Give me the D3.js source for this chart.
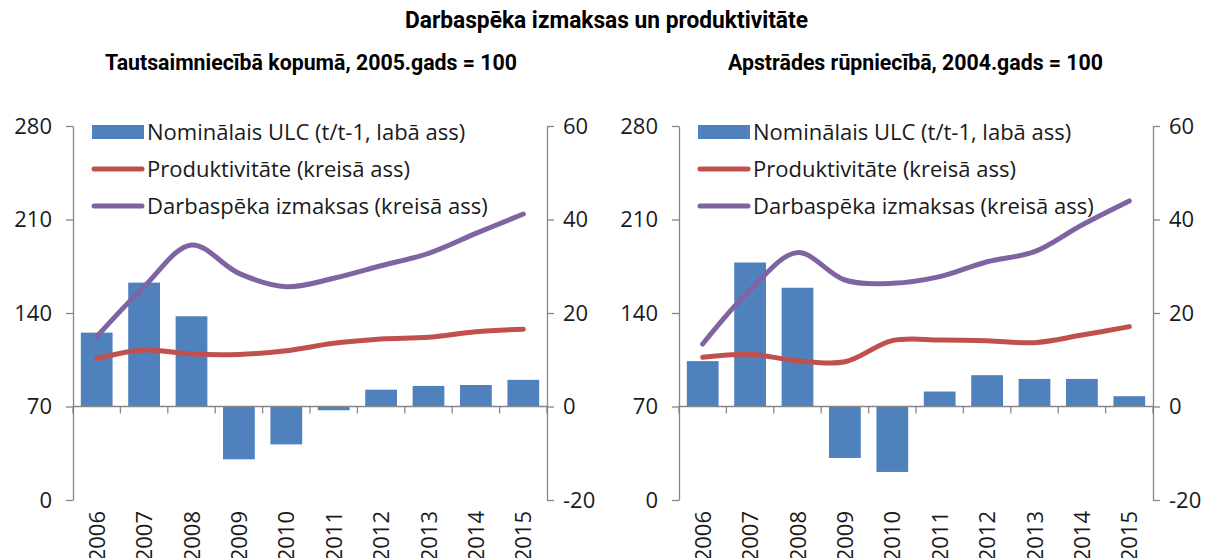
<!DOCTYPE html>
<html>
<head>
<meta charset="utf-8">
<script src="https://cdn.jsdelivr.net/npm/d3@7"></script>
<style>
  body { margin: 0; background: #fff; }
  svg { display: block; font-family: "Open Sans", "Noto Sans", sans-serif; }
  .title { font-family: "Roboto", sans-serif; font-weight: bold; }
</style>
</head>
<body>
<svg width="1215" height="558"></svg>
<script>
// years and series
const years = ["2006", "2007", "2008", "2009", "2010", "2011", "2012", "2013", "2014", "2015"]

// left panel: whole economy, 2005 = 100
const ulcTotal = [15.8, 26.5, 19.3, -11.3, -8.1, -0.8, 3.6, 4.4, 4.6, 5.7]
const prodTotal = [105.8, 112.3, 109.3, 109.0, 111.8, 117.3, 120.5, 121.8, 126.0, 127.8]
const costTotal = [122.3, 159.7, 190.9, 169.7, 159.7, 166.0, 175.4, 184.7, 199.6, 214.1]

// right panel: manufacturing, 2004 = 100
const ulcManuf = [9.7, 30.8, 25.4, -11.0, -14.0, 3.2, 6.7, 5.9, 5.9, 2.2]
const prodManuf = [106.8, 109.1, 104.3, 103.5, 119.3, 119.8, 119.3, 117.8, 123.5, 129.8]
const costManuf = [116.8, 157.2, 185.2, 164.7, 162.2, 167.2, 178.4, 185.9, 205.9, 223.9]

const leftTicks = [0, 70, 140, 210, 280]
const rightTicks = [-20, 0, 20, 40, 60]

const legendLabels = [
    "Nominālais ULC (t/t-1, labā ass)",
    "Produktivitāte (kreisā ass)",
    "Darbaspēka izmaksas (kreisā ass)"
]

const blue = "#4F81BD"
const red = "#C0504D"
const purple = "#8064A2"
const axisColor = "#868686"

const svg = d3.select("svg")

svg.append("text")
    .attr("class", "title")
    .attr("x", 405)
    .attr("y", 28)
    .attr("font-size", 23)
    .attr("textLength", 403)
    .attr("lengthAdjust", "spacingAndGlyphs")
    .text("Darbaspēka izmaksas un produktivitāte")

const drawPanel = function(x0, x1, subtitle, subX, subW, ulc, prod, cost) {
    const g = svg.append("g")

    g.append("text")
        .attr("class", "title")
        .attr("x", subX)
        .attr("y", 70)
        .attr("font-size", 22)
        .attr("textLength", subW)
        .attr("lengthAdjust", "spacingAndGlyphs")
        .text(subtitle)

    const scaleX = d3.scaleBand()
        .domain(years)
        .range([x0, x1])
        .paddingInner(0.33)
        .paddingOuter(0.165)

    const scaleL = d3.scaleLinear()
        .domain([0, 280])
        .range([500, 126])

    const scaleR = d3.scaleLinear()
        .domain([-20, 60])
        .range([500, 126])

    // left axis
    const axisL = d3.axisLeft(scaleL)
        .tickValues(leftTicks)
        .tickSizeInner(7)
        .tickSizeOuter(0)
        .tickPadding(14)
        .tickFormat(d => String(d))
    const gl = g.append("g")
        .attr("transform", `translate(${x0}, 0)`)
        .call(axisL)

    // right axis
    const axisR = d3.axisRight(scaleR)
        .tickValues(rightTicks)
        .tickSizeInner(7)
        .tickSizeOuter(0)
        .tickPadding(9)
        .tickFormat(d => String(d))
    const gr = g.append("g")
        .attr("transform", `translate(${x1}, 0)`)
        .call(axisR)

    ;[gl, gr].forEach(a => {
        a.selectAll("path, line").attr("stroke", axisColor).attr("stroke-width", 1.3)
        a.selectAll("text")
            .attr("font-size", 22)
            .attr("fill", "#1a1a1a")
            .attr("font-family", "Open Sans, sans-serif")
    })

    // bars
    g.selectAll("rect.bar")
        .data(ulc)
        .enter()
        .append("rect")
        .attr("class", "bar")
        .attr("x", (d, i) => scaleX(years[i]))
        .attr("width", scaleX.bandwidth())
        .attr("y", d => scaleR(Math.max(0, d)))
        .attr("height", d => Math.abs(scaleR(d) - scaleR(0)))
        .attr("fill", blue)

    // category axis on the zero line
    const step = scaleX.step()
    const bounds = d3.range(years.length + 1).map(i => x0 + i * step)
    g.append("line")
        .attr("x1", x0).attr("x2", x1)
        .attr("y1", scaleR(0)).attr("y2", scaleR(0))
        .attr("stroke", axisColor)
        .attr("stroke-width", 1.5)
    g.selectAll("line.xtick")
        .data(bounds)
        .enter()
        .append("line")
        .attr("class", "xtick")
        .attr("x1", d => d).attr("x2", d => d)
        .attr("y1", scaleR(0)).attr("y2", scaleR(0) + 7)
        .attr("stroke", axisColor)
        .attr("stroke-width", 1.3)

    g.selectAll("text.year")
        .data(years)
        .enter()
        .append("text")
        .attr("class", "year")
        .attr("transform", d => `translate(${scaleX(d) + scaleX.bandwidth() / 2 + 8}, 511) rotate(-90)`)
        .attr("text-anchor", "end")
        .attr("font-size", 22)
        .attr("fill", "#1a1a1a")
        .text(d => d)

    // lines
    const line = d3.line()
        .x((d, i) => scaleX(years[i]) + scaleX.bandwidth() / 2)
        .y(d => scaleL(d))
        .curve(d3.curveCatmullRom.alpha(0.5))

    g.append("path")
        .attr("d", line(prod))
        .attr("fill", "none")
        .attr("stroke", red)
        .attr("stroke-width", 5)
        .attr("stroke-linecap", "round")

    g.append("path")
        .attr("d", line(cost))
        .attr("fill", "none")
        .attr("stroke", purple)
        .attr("stroke-width", 5)
        .attr("stroke-linecap", "round")

    // legend
    const lx = x0 + 19
    const rows = [132, 169, 206]
    const legend = g.append("g")
    legend.append("rect")
        .attr("x", lx).attr("y", rows[0] - 7)
        .attr("width", 52).attr("height", 14)
        .attr("fill", blue)
    legend.append("line")
        .attr("x1", lx + 2).attr("x2", lx + 50)
        .attr("y1", rows[1]).attr("y2", rows[1])
        .attr("stroke", red).attr("stroke-width", 5).attr("stroke-linecap", "round")
    legend.append("line")
        .attr("x1", lx + 2).attr("x2", lx + 50)
        .attr("y1", rows[2]).attr("y2", rows[2])
        .attr("stroke", purple).attr("stroke-width", 5).attr("stroke-linecap", "round")
    legend.selectAll("text")
        .data(legendLabels)
        .enter()
        .append("text")
        .attr("x", lx + 55)
        .attr("y", (d, i) => rows[i])
        .attr("dy", "0.35em")
        .attr("font-size", 22)
        .attr("fill", "#1a1a1a")
        .text(d => d)
}

drawPanel(73, 547, "Tautsaimniecībā kopumā, 2005.gads = 100", 105, 412, ulcTotal, prodTotal, costTotal)
drawPanel(679, 1153, "Apstrādes rūpniecībā, 2004.gads = 100", 728, 375, ulcManuf, prodManuf, costManuf)
</script>
</body>
</html>
